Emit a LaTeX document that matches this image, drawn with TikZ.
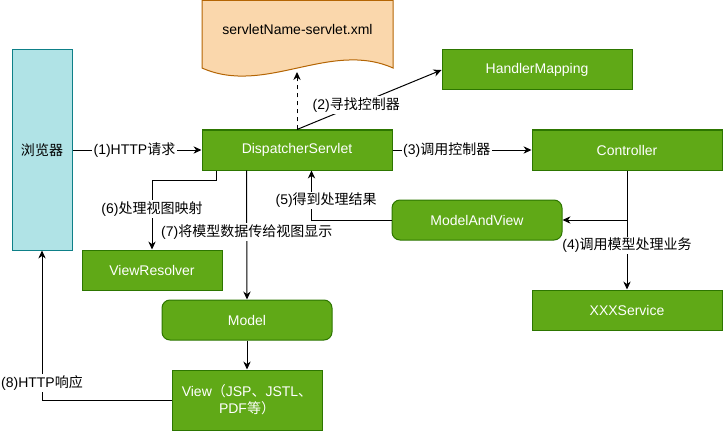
\documentclass[tikz,border=0pt]{standalone}
\usepackage{fontspec}
\setmainfont{Liberation Sans}
\newfontfamily\cjk{Noto Sans CJK SC}
\newcommand\zh[1]{{\cjk #1}}
\usepackage{tikz}
\usetikzlibrary{arrows.meta,positioning,calc}
\definecolor{stepfill}{HTML}{60A917}
\definecolor{stepline}{HTML}{2D7600}
\definecolor{clientfill}{HTML}{B0E3E6}
\definecolor{clientline}{HTML}{0E8088}
\definecolor{docfill}{HTML}{FAD7AC}
\definecolor{docline}{HTML}{B46504}
\tikzset{
  blk/.style     = {draw=stepline,fill=stepfill,line width=0.75pt,
                     minimum width=142.5pt,minimum height=30pt,
                     inner sep=0pt,align=center,text=white},
  rblk/.style    = {blk,rounded corners=6pt},
  client/.style  = {draw=clientline,fill=clientfill,line width=0.75pt,
                     minimum width=45pt,minimum height=150pt,inner sep=0pt},
  docshape/.style= {draw=docline,fill=docfill,line width=0.75pt},
  flowarr/.style = {-{Stealth[length=6pt,width=5.5pt]},line width=0.75pt},
  flowlbl/.style = {fill=white,inner sep=1pt,text=black},
}

\begin{document}
\begin{tikzpicture}[x=0.75pt,y=-0.75pt,font=\fontsize{10.5}{13}\selectfont]
  \useasboundingbox (0,0) rectangle (723,431);
  % Config document
  \draw[docshape] (393,68) .. controls (330,40) and (265,96) .. (202,68)
        -- (202,0.5) -- (393,0.5) -- cycle;
  \node (xml) at (297.5,29) {servletName-servlet.xml};
  \coordinate (xmlbot) at (297,72);
  % Boxes
  \node[client] (browser) at (42,150) {\zh{浏览器}};
  \node[blk] (disp) at (297,150) {DispatcherServlet};
  \node[blk] (handler) at (537,70) {HandlerMapping};
  \node[blk] (ctrl) at (627,150) {Controller};
  \node[rblk,minimum width=127.5pt] (mav) at (477,220) {ModelAndView};
  \node[blk,minimum width=105pt] (vres) at (152,270) {ViewResolver};
  \node[blk] (svc) at (627,310) {XXXService};
  \node[rblk,minimum width=127.5pt] (model) at (247,320) {Model};
  \node[blk,minimum width=112.5pt,minimum height=45pt] (view) at (247,400)
        {View\zh{（}JSP\zh{、}JSTL\zh{、}\\PDF\zh{等）}};
  % Request path
  \draw[flowarr] (browser) -- node[flowlbl,pos=0.48]{(1)HTTP\zh{请求}} (disp);
  \draw[flowarr] (disp.north) -- node[flowlbl,pos=0.41]{(2)\zh{寻找控制器}}
        (handler.west);
  \draw[flowarr,dashed] (disp.north) -- (xmlbot);
  \draw[flowarr] (disp) -- node[flowlbl,pos=0.39]{(3)\zh{调用控制器}} (ctrl);
  \draw[flowarr] (ctrl) -- node[flowlbl,pos=0.63]{(4)\zh{调用模型处理业务}} (svc);
  \draw[flowarr] (ctrl.south |- mav.east) -- (mav.east);
  % Response path
  \draw[flowarr] (mav.west) -| node[flowlbl,pos=0.7,xshift=11]{(5)\zh{得到处理结果}}
        ($(disp.south west)+(110,0)$);
  \draw[flowarr] ($(disp.south west)+(15,0)$) -- ++(0,10)
        -| node[flowlbl,pos=0.707]{(6)\zh{处理视图映射}} (vres.north);
  \draw[flowarr] ($(disp.south west)+(45,0)$)
        -- node[flowlbl,pos=0.477]{(7)\zh{将模型数据传给视图显示}} (model.north);
  \draw[flowarr] (model) -- (view);
  \draw[flowarr] (view.west) -| node[flowlbl,pos=0.557]{(8)HTTP\zh{响应}}
        (browser.south);
\end{tikzpicture}
\end{document}
